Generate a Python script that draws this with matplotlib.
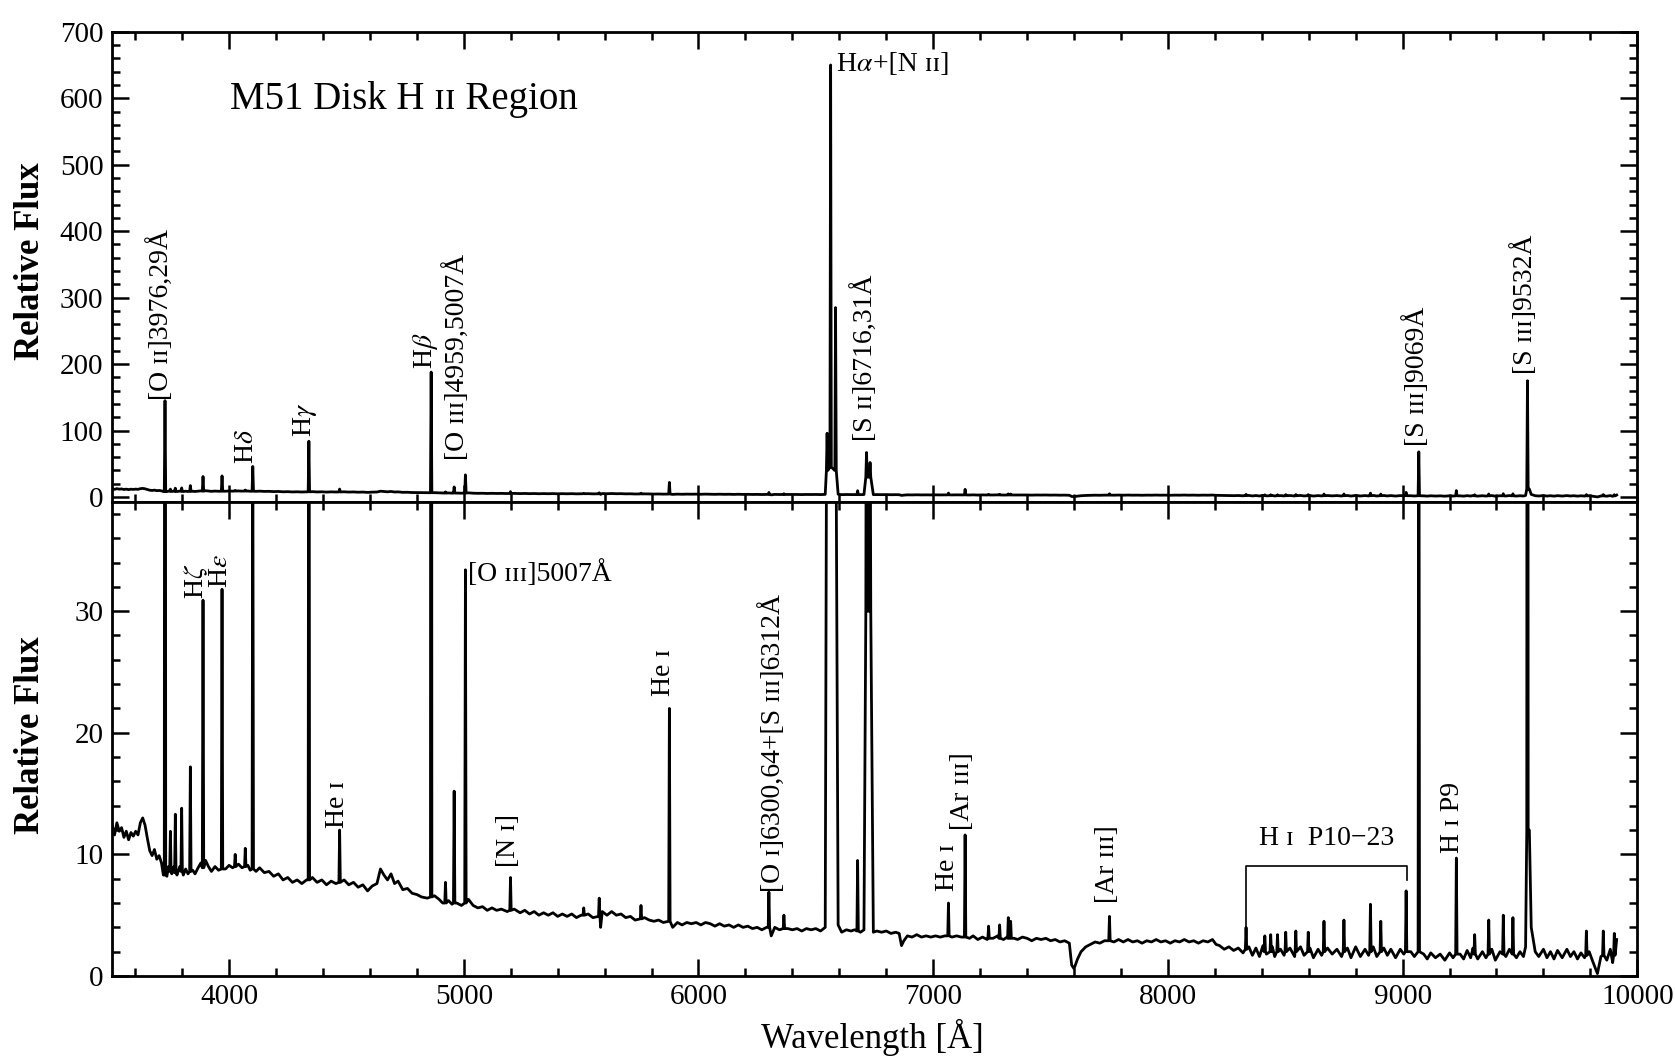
import numpy as np
import matplotlib
matplotlib.use('Agg')
import matplotlib.pyplot as plt
from matplotlib.ticker import MultipleLocator

plt.rcParams['font.family'] = ['Liberation Serif', 'DejaVu Serif']
plt.rcParams['mathtext.fontset'] = 'stix'

# continuum, in pieces (wavelength [A], relative flux)
blue_wl = [3502, 3512, 3522, 3532, 3542, 3552, 3562, 3572, 3582, 3592,
           3602, 3612, 3622, 3632, 3642, 3652, 3662, 3672, 3682, 3692,
           3702, 3712, 3720, 3735, 3742, 3756, 3765, 3778, 3790, 3805,
           3815, 3825, 3845, 3855, 3868, 3880, 3900, 3912, 3925, 3940,
           3955, 3985, 4000, 4015, 4040, 4055, 4080, 4090]
blue_flux = [12.4, 11.6, 12.6, 11.9, 12.2, 11.4, 11.9, 11.2, 11.8, 11.5,
             11.9, 11.6, 12.6, 13.0, 12.4, 11.3, 10.3, 9.9, 10.4, 9.6,
             9.9, 9.3, 8.3, 8.2, 9.0, 8.4, 9.0, 8.3, 9.0, 8.3,
             8.8, 8.4, 8.7, 8.4, 8.9, 9.3, 9.5, 9.0, 8.6, 9.0,
             8.7, 8.8, 9.1, 8.9, 9.2, 8.9, 9.1, 8.7]

green_wl = [4115, 4130, 4150, 4170, 4190, 4210, 4230, 4250, 4270, 4290,
            4310, 4330, 4355, 4375, 4395, 4415, 4435, 4455, 4490, 4510,
            4530, 4550, 4570, 4590, 4610, 4630, 4645, 4660, 4675, 4690,
            4705, 4720, 4740, 4760, 4780, 4800, 4820, 4845, 4875, 4895,
            4910, 4935, 4950, 4970, 4990]
green_flux = [8.6, 8.9, 8.5, 8.6, 8.2, 8.4, 7.9, 8.1, 7.7, 7.9,
              7.6, 7.9, 8.1, 7.7, 7.9, 7.5, 7.8, 7.6, 7.9, 7.5,
              7.7, 7.3, 7.5, 7.0, 7.4, 7.6, 8.8, 8.3, 7.9, 8.4,
              7.6, 7.8, 7.1, 7.2, 6.8, 6.7, 6.5, 6.4, 6.6, 6.3,
              6.0, 6.2, 5.9, 6.0, 5.8]

yellow_wl = [5020, 5040, 5060, 5080, 5100, 5120, 5140, 5160, 5185, 5215,
             5240, 5260, 5280, 5300, 5320, 5340, 5360, 5380, 5400, 5420,
             5440, 5460, 5480, 5500, 5530, 5550, 5583, 5590, 5610, 5630,
             5650, 5670, 5690, 5710, 5730, 5770, 5790, 5810, 5830, 5850,
             5890, 5910, 5930, 5950, 5970, 5990]
yellow_flux = [6.3, 5.8, 5.6, 5.7, 5.4, 5.6, 5.4, 5.5, 5.3, 5.5,
               5.2, 5.4, 5.1, 5.3, 5.0, 5.2, 5.0, 5.2, 4.9, 5.1,
               4.9, 5.1, 4.8, 5.0, 5.1, 4.8, 4.0, 5.3, 5.0, 5.3,
               5.0, 5.1, 4.8, 4.9, 4.6, 4.8, 4.6, 4.5, 4.6, 4.4,
               4.0, 4.4, 4.2, 4.4, 4.3, 4.4]

red_wl = [6010, 6030, 6050, 6070, 6090, 6110, 6130, 6150, 6170, 6190,
          6210, 6230, 6250, 6270, 6290, 6310, 6325, 6345, 6380, 6400,
          6420, 6440, 6460, 6480, 6500, 6520, 6540, 6595, 6610, 6630,
          6650, 6665, 6690, 6705, 6745, 6760, 6780, 6800, 6820, 6840,
          6855, 6865, 6875, 6890, 6910, 6930, 6950, 6970, 6990]
red_flux = [4.2, 4.4, 4.3, 4.1, 4.3, 4.1, 4.2, 4.0, 4.2, 4.0,
            4.1, 3.9, 4.0, 3.8, 4.0, 3.3, 4.0, 3.8, 3.9, 3.8,
            3.9, 3.7, 3.9, 3.8, 3.9, 3.7, 4.0, 4.2, 3.6, 3.8,
            3.7, 3.8, 3.6, 3.8, 3.6, 3.7, 3.6, 3.7, 3.5, 3.6,
            3.5, 2.5, 2.9, 3.3, 3.2, 3.4, 3.2, 3.3, 3.2]

far_red_wl = [7010, 7030, 7050, 7080, 7100, 7120, 7155, 7170, 7190, 7210,
              7230, 7255, 7275, 7300, 7315, 7345, 7360, 7380, 7400, 7420,
              7440, 7460, 7480, 7500, 7520, 7540, 7560, 7580, 7590, 7600,
              7615, 7630, 7650, 7670, 7690, 7710, 7730, 7770, 7790, 7810,
              7830, 7850, 7870, 7890, 7910, 7930, 7950, 7970, 7990, 8010,
              8030, 8050, 8070, 8090, 8110, 8130, 8150, 8170, 8190]
far_red_flux = [3.3, 3.2, 3.3, 3.2, 3.3, 3.2, 3.1, 3.3, 3.0, 3.2,
                3.0, 3.1, 3.3, 3.0, 3.2, 3.1, 3.0, 3.2, 3.1, 2.9,
                3.1, 3.0, 3.1, 2.9, 3.0, 2.8, 2.9, 2.7, 0.9, 0.6,
                1.4, 2.0, 2.4, 2.6, 2.8, 2.7, 2.9, 2.8, 3.0, 2.8,
                3.0, 2.8, 2.9, 2.7, 2.9, 2.8, 3.0, 2.8, 2.9, 2.7,
                2.9, 2.8, 3.0, 2.8, 2.9, 2.7, 2.9, 2.8, 3.0]

nir_wl = [8205, 8220, 8240, 8260, 8280, 8300, 8320, 8345, 8360, 8375,
          8390, 8405, 8420, 8445, 8455, 8480, 8495, 8520, 8540, 8565,
          8580, 8605, 8620, 8640, 8655, 8680, 8700, 8720, 8740, 8765,
          8780, 8800, 8820, 8840, 8855, 8875, 8890, 8920, 8935, 8950,
          8970, 8990, 9005, 9035, 9050]
nir_flux = [2.6, 2.5, 2.2, 2.4, 2.1, 2.3, 1.9, 2.4, 1.7, 2.3,
            1.6, 2.5, 1.8, 2.4, 1.6, 2.2, 1.7, 2.3, 1.6, 2.4,
            1.7, 2.3, 1.5, 2.2, 1.7, 2.3, 1.8, 2.2, 1.6, 2.3,
            1.5, 2.4, 1.6, 2.2, 1.7, 2.4, 1.6, 2.3, 1.7, 2.2,
            1.5, 2.2, 1.8, 2.0, 1.6]

ir_wl = [9090, 9105, 9120, 9140, 9160, 9180, 9200, 9215, 9245, 9260,
         9275, 9290, 9300, 9320, 9340, 9355, 9380, 9395, 9415, 9440,
         9455, 9485, 9500, 9515, 9524, 9540, 9548, 9565, 9580, 9600,
         9615, 9630, 9645, 9660, 9680, 9700, 9715, 9730, 9745, 9760,
         9775, 9795, 9810, 9830, 9845, 9870, 9885, 9895, 9907, 9912]
ir_flux = [1.8, 1.4, 1.9, 1.5, 1.8, 1.3, 1.9, 1.5, 1.8, 1.4,
           2.1, 1.5, 2.3, 1.4, 2.0, 1.5, 2.2, 1.3, 2.0, 1.6,
           2.2, 1.5, 2.0, 1.6, 2.4, 12.0, 4.0, 2.0, 1.6, 2.2,
           1.5, 2.0, 1.4, 2.1, 1.5, 2.2, 1.6, 2.0, 1.4, 1.9,
           1.5, 2.0, 1.2, 0.2, 1.6, 1.3, 2.2, 1.1, 2.0, 3.0]

# emission lines: centre, peak and the level at the foot of the line
line_wl = [3727, 3750, 3771, 3798, 3835, 3889, 3970, 4026, 4069, 4101,
           4340, 4471, 4861, 4922, 4959, 5007, 5199, 5511, 5577, 5755,
           5876, 6300, 6364, 6548, 6563, 6584, 6678, 6716, 6731, 7065,
           7136, 7236, 7283, 7320, 7330, 7751, 8333, 8413, 8438, 8467,
           8502, 8545, 8598, 8665, 8750, 8863, 8907, 9015, 9069, 9229,
           9307, 9367, 9429, 9470, 9532, 9783, 9855, 9902]
line_peak = [145, 11.9, 13.3, 13.8, 17.2, 30.9, 31.8, 10.0, 10.5, 46,
             84, 12.0, 188, 7.7, 15.2, 33.4, 8.1, 5.6, 6.4, 5.8,
             22.0, 6.9, 5.0, 96, 650, 285, 9.5, 67, 52, 6.0,
             11.6, 4.1, 4.2, 4.8, 4.5, 4.9, 4.0, 3.3, 3.4, 3.4,
             3.6, 3.7, 3.6, 4.5, 4.6, 5.9, 4.5, 7.0, 68, 9.7,
             3.4, 4.6, 5.0, 4.8, 175, 3.7, 3.7, 3.5]
line_base = [8.3, 8.6, 8.5, 8.6, 8.6, 8.9, 8.8, 9.0, 9.0, 8.8,
             7.9, 7.7, 6.5, 6.0, 6.0, 6.0, 5.4, 5.0, 4.9, 4.7,
             4.5, 4.0, 3.9, 40, 45, 40, 3.7, 30, 30, 3.3,
             3.2, 3.1, 3.1, 3.1, 3.1, 2.9, 2.2, 2.0, 2.0, 2.0,
             2.0, 2.0, 2.0, 2.0, 2.0, 2.0, 2.0, 2.0, 2.0, 1.8,
             1.8, 1.8, 1.8, 1.8, 12, 1.7, 1.7, 1.7]

paschen_span = [8333, 9019]

# build the trace: continuum points plus a narrow spike per line
wl = blue_wl + green_wl + yellow_wl + red_wl + far_red_wl + nir_wl + ir_wl
fl = blue_flux + green_flux + yellow_flux + red_flux + far_red_flux + nir_flux + ir_flux
hw = 3.0
for w, p, b in zip(line_wl, line_peak, line_base):
    wl += [w - hw, w, w + hw]
    fl += [b, p, b]
order = np.argsort(wl, kind='stable')
wl = np.array(wl)[order]
fl = np.array(fl)[order]

fig = plt.figure(figsize=(16.75, 10.58), dpi=100)
ax1 = fig.add_axes([0.0667, 0.5258, 0.9108, 0.4442])
ax2 = fig.add_axes([0.0667, 0.0775, 0.9108, 0.4483], sharex=ax1)

for ax in (ax1, ax2):
    ax.plot(wl, fl, color='black', lw=2.0)
    ax.set_xlim(3500, 10000)
    ax.xaxis.set_major_locator(MultipleLocator(1000))
    ax.xaxis.set_minor_locator(MultipleLocator(200))
    ax.tick_params(which='both', direction='in', top=True, right=True,
                   width=1.8, labelsize=21, pad=6)
    ax.tick_params(which='major', length=12)
    ax.tick_params(which='minor', length=6)
    for s in ax.spines.values():
        s.set_linewidth(2.0)

ax1.set_ylim(-7, 700)
ax1.yaxis.set_major_locator(MultipleLocator(100))
ax1.yaxis.set_minor_locator(MultipleLocator(20))
ax1.tick_params(labelbottom=False)

ax2.set_ylim(0, 39)
ax2.yaxis.set_major_locator(MultipleLocator(10))
ax2.yaxis.set_minor_locator(MultipleLocator(2))

fs = 20
# top panel labels
ax1.text(4003, 598, 'M51 Disk H ɪɪ Region', fontsize=28, ha='left', va='center')
top_labels = [('[O ɪɪ]3976,29Å', 3712, 146),
              (r'H$\delta$', 4075, 50),
              (r'H$\gamma$', 4322, 90),
              (r'H$\beta$', 4838, 192),
              ('[O ɪɪɪ]4959,5007Å', 4971, 56),
              ('[S ɪɪ]6716,31Å', 6711, 84),
              ('[S ɪɪɪ]9069Å', 9058, 77),
              ('[S ɪɪɪ]9532Å', 9520, 185)]
for txt, x, y in top_labels:
    ax1.text(x, y, txt, rotation=90, ha='center', va='bottom', fontsize=fs)
t = ax1.text(6585, 650, r'H$\alpha$', fontsize=fs, ha='left', va='center')
ax1.annotate('+[N ɪɪ]', xy=(1, 0), xycoords=t, ha='left', va='bottom', fontsize=fs)

# bottom panel labels
bottom_labels = [(r'H$\zeta$', 3861, 31.0),
                 (r'H$\epsilon$', 3965, 31.9),
                 ('He ɪ', 4462, 12.2),
                 ('[N ɪ]', 5189, 9.0),
                 ('He ɪ', 5853, 23.0),
                 ('[O ɪ]6300,64+[S ɪɪɪ]6312Å', 6320, 6.9),
                 ('He ɪ', 7059, 7.0),
                 ('[Ar ɪɪɪ]', 7123, 12.0),
                 ('[Ar ɪɪɪ]', 7742, 6.0),
                 ('H ɪ P9', 9214, 10.1)]
for txt, x, y in bottom_labels:
    ax2.text(x, y, txt, rotation=90, ha='center', va='bottom', fontsize=fs)
ax2.text(5018, 33.1, '[O ɪɪɪ]5007Å', fontsize=fs, ha='left', va='center')
ax2.text(sum(paschen_span) / 2, 11.3, 'H ɪ  P10−23', fontsize=fs, ha='center', va='center')
ax2.plot([paschen_span[0], paschen_span[0], paschen_span[1], paschen_span[1]],
         [4.0, 9.05, 9.05, 7.9], color='black', lw=1.2)

fig.text(0.018, 0.753, 'Relative Flux', rotation=90, ha='center', va='center',
         fontsize=25, fontweight='bold')
fig.text(0.018, 0.305, 'Relative Flux', rotation=90, ha='center', va='center',
         fontsize=25, fontweight='bold')
fig.text(0.5206, 0.019, 'Wavelength [Å]', ha='center', va='center', fontsize=25)

plt.savefig('out.png', dpi=100)
